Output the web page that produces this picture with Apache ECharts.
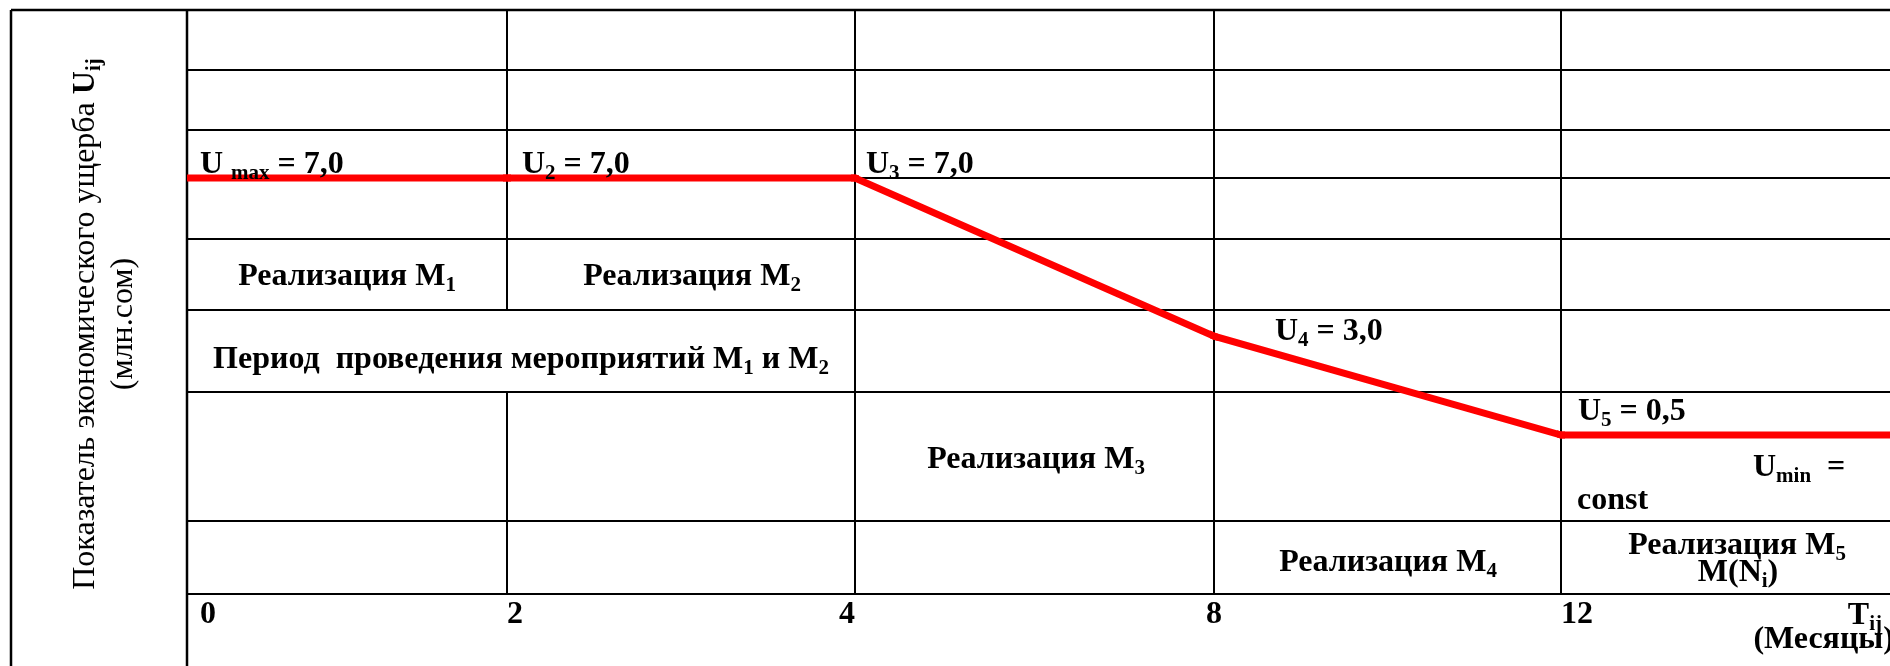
<!DOCTYPE html>
<html>
<head>
<meta charset="utf-8">
<script src="https://cdn.jsdelivr.net/npm/echarts@6/dist/echarts.min.js"></script>
<style>html,body{margin:0;padding:0;background:#fff}#c{width:1890px;height:666px}</style>
</head>
<body>
<div id="c"></div>
<script>
// ---------- DATA ----------
// Time points (Tij, months) that bound the table columns
const months = [0, 2, 4, 8, 12, 16];
// Economic damage indicator Uij (млн.сом) at those months
const damage = [7.0, 7.0, 7.0, 3.0, 0.5, 0.5];
// Tick labels of the time axis
const tickLabels = ['0', '2', '4', '8', '12'];
// Subscripts of the point annotations U_max, U2 ... U5
const pointSubs = ['max', '2', '3', '4', '5'];
// Measures implemented in each column
const measures = ['1', '2', '3', '4', '5'];

// ---------- LAYOUT / STYLE ----------
const FONT = '"Liberation Serif", "Times New Roman", serif';
const colX = [187, 507, 855, 1214, 1561, 1913];
const rowY = [10, 70, 130, 178, 239, 310, 392, 521, 594];
const Y_MIN = -3.52, Y_MAX = 11.25;
const labelAlign = ['left', 'left', 'right', 'center', 'left'];
const labelPad = [[0, 0, 0, 13], [0, 0, 0, 0], [0, 0, 0, 0], [0, 0, 0, 0], [0, 0, 0, 0]];
const RED = '#ff0000';

const rich = {
  b: {fontFamily: FONT, fontWeight: 'bold', fontSize: 32, lineHeight: 38, fill: '#000', verticalAlign: 'middle'},
  s: {fontFamily: FONT, fontWeight: 'bold', fontSize: 21, lineHeight: 21, fill: '#000', verticalAlign: 'bottom'},
  n: {fontFamily: FONT, fontWeight: 'normal', fontSize: 32, lineHeight: 38, fill: '#000', verticalAlign: 'middle'}
};

const fmt = v => v.toFixed(1).replace('.', ',');

const chart = echarts.init(document.getElementById('c'));

const grids = [], xAxes = [], yAxes = [], series = [];
const points = months.map((m, k) => [m, damage[k]]);
for (let i = 0; i < 5; i++) {
  grids.push({left: colX[i], top: rowY[0], width: colX[i + 1] - colX[i],
    height: rowY[rowY.length - 1] - rowY[0], containLabel: false, outerBoundsMode: 'none'});
  xAxes.push({
    type: 'value', gridIndex: i, min: months[i], max: months[i + 1],
    interval: months[i + 1] - months[i],
    axisLine: {show: false}, axisTick: {show: false}, splitLine: {show: false},
    axisLabel: {
      show: true, showMinLabel: true, showMaxLabel: false, margin: 5,
      align: labelAlign[i], padding: labelPad[i],
      formatter: v => (months.indexOf(v) >= 0 && months.indexOf(v) < tickLabels.length) ? tickLabels[months.indexOf(v)] : '',
      fontFamily: FONT, fontWeight: 'bold', fontSize: 32, color: '#000'
    }
  });
  yAxes.push({type: 'value', gridIndex: i, min: Y_MIN, max: Y_MAX, show: false});
  series.push({
    type: 'line', xAxisIndex: i, yAxisIndex: i, data: points, clip: true,
    symbol: 'none', silent: true, z: 10,
    lineStyle: {color: RED, width: 7, cap: 'butt', join: 'miter'}
  });
}

// ---------- TABLE RULING ----------
const graphic = [];
function line(x1, y1, x2, y2, w) {
  graphic.push({type: 'line', z: 0, silent: true, shape: {x1, y1, x2, y2},
    style: {stroke: '#000', lineWidth: w || 2}});
}
line(11, rowY[0], 1890, rowY[0], 2.5);
line(11, rowY[0], 11, 666, 2.5);
line(colX[0], rowY[0], colX[0], 666, 2.5);
rowY.slice(1).forEach(y => line(colX[0], y, 1890, y, 2));
[1, 2, 3, 4].forEach(i => {
  if (i === 1) {
    line(colX[1], rowY[0], colX[1], rowY[5]);
    line(colX[1], rowY[6], colX[1], rowY[8]);
  } else {
    line(colX[i], rowY[0], colX[i], rowY[8]);
  }
});

// ---------- TEXTS ----------
function txt(text, x, y, align, rot) {
  graphic.push({type: 'text', z: 100, silent: true, x, y, rotation: rot || 0,
    style: {text, x: 0, y: 0, align: align || 'left', verticalAlign: 'middle',
      font: 'bold 32px ' + FONT, fill: '#000', rich}});
}
// point annotations
const uPos = [[200, 165], [522, 165], [866, 165], [1275, 332], [1578, 412]];
pointSubs.forEach((sub, j) => {
  const lead = sub === 'max' ? '{b|U }' : '{b|U}';
  txt(lead + '{s|' + sub + '}{b| = ' + fmt(damage[j]) + '}', uPos[j][0], uPos[j][1], 'left');
});
txt('{b|U}{s|min}{b|  =}', 1753, 468, 'left');
txt('{b|const}', 1577, 501, 'left');

// measure labels
txt('{b|Реализация M}{s|' + measures[0] + '}', 347, 277, 'center');
txt('{b|Реализация M}{s|' + measures[1] + '}', 692, 277, 'center');
txt('{b|Период  проведения мероприятий M}{s|' + measures[0] + '}{b| и M}{s|' + measures[1] + '}', 521, 360, 'center');
txt('{b|Реализация M}{s|' + measures[2] + '}', 1036, 460, 'center');
txt('{b|Реализация M}{s|' + measures[3] + '}', 1388, 563, 'center');
txt('{b|Реализация M}{s|' + measures[4] + '}', 1737, 546, 'center');
txt('{b|M(N}{s|i}{b|)}', 1738, 573, 'center');

// axis names
txt('{b|T}{s|ij}', 1882, 616, 'right');
txt('{b|(Месяцы)}', 1894, 640, 'right');
txt('{n|Показатель экономического ущерба }{b|U}{s|ij}\n{n|(млн.сом)}', 105, 324, 'center', Math.PI / 2);

chart.setOption({
  backgroundColor: '#fff',
  animation: false,
  grid: grids,
  xAxis: xAxes,
  yAxis: yAxes,
  series,
  graphic
});
</script>
</body>
</html>
